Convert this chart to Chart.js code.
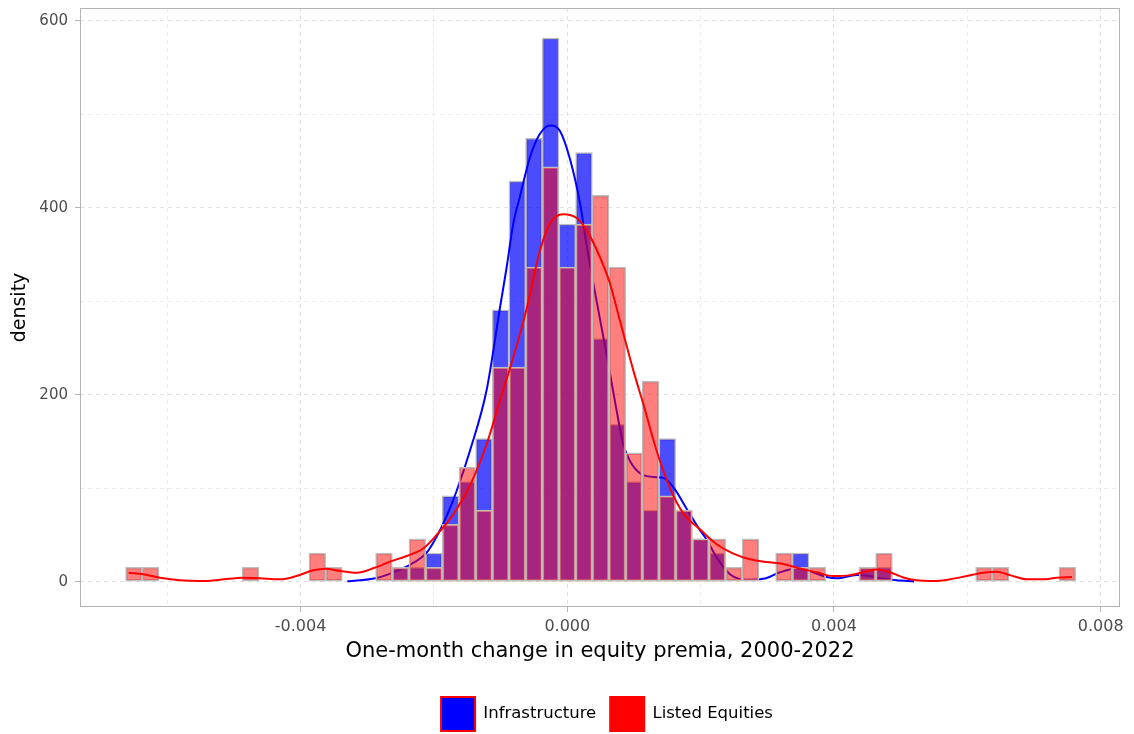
<!DOCTYPE html>
<html>
<head>
<meta charset="utf-8">
<script src="https://cdn.jsdelivr.net/npm/chart.js@4/dist/chart.umd.min.js"></script>
<style>
  html, body { margin: 0; padding: 0; background: #fff; }
</style>
</head>
<body>
<canvas id="premiaChart" width="1134" height="734"></canvas>
<script>
// histogram bins (centres), bin width 0.00025
const binCenters = [-0.0065,-0.00625,-0.006,-0.00575,-0.0055,-0.00525,-0.005,-0.00475,-0.0045,-0.00425,
  -0.004,-0.00375,-0.0035,-0.00325,-0.003,-0.00275,-0.0025,-0.00225,-0.002,-0.00175,
  -0.0015,-0.00125,-0.001,-0.00075,-0.0005,-0.00025,0,0.00025,0.0005,0.00075,
  0.001,0.00125,0.0015,0.00175,0.002,0.00225,0.0025,0.00275,0.003,0.00325,
  0.0035,0.00375,0.004,0.00425,0.0045,0.00475,0.005,0.00525,0.0055,0.00575,
  0.006,0.00625,0.0065,0.00675,0.007,0.00725,0.0075];

const infraDensity = [0,0,0,0,0,0,0,0,0,0,
  0,0,0,0,0,0,15.3,15.3,30.6,91.8,
  107.1,153,290.7,428.4,474.3,581.4,382.5,459,260.1,168.3,
  107.1,76.5,153,76.5,45.9,30.6,0,0,0,0,
  30.6,0,0,0,15.3,15.3,0,0,0,0,
  0,0,0,0,0,0,0];

const listedDensity = [15.3,15.3,0,0,0,0,0,15.3,0,0,
  0,30.6,15.3,0,0,30.6,15.3,45.9,15.3,61.2,
  122.4,76.5,229.5,229.5,336.6,443.7,336.6,382.5,413.1,336.6,
  137.7,214.2,91.8,76.5,45.9,45.9,15.3,45.9,0,30.6,
  15.3,15.3,0,0,15.3,30.6,0,0,0,0,
  0,15.3,15.3,0,0,0,15.3];

// kernel density curves
const infraCurveX = [-0.0033,-0.0031,-0.00286,-0.00261,-0.00236,-0.00211,-0.00196,-0.00181,-0.00166,-0.00146,
  -0.00121,-0.00101,-0.00091,-0.00081,-0.00071,-0.00056,-0.00041,-0.00026,-0.00011,0.00004,
  0.00019,0.00029,0.00044,0.00059,0.00074,0.00084,0.00094,0.00109,0.00129,0.00144,
  0.00159,0.00179,0.00199,0.00209,0.00224,0.00244,0.00269,0.00294,0.00319,0.00344,
  0.00364,0.00389,0.00404,0.00434,0.00454,0.00474,0.00494,0.0052];
const infraCurveY = [0.5,1.5,4,10,18,31,48,70,97,140,
  205,293,336,383,412,454,479,488,482,452,
  405,360,300,243,183,147,129,116,112,111,
  101,78,55,45,26,8,2,3,10,14,
  11,5,3.6,7,6,3,1.5,0.3];

const listedCurveX = [-0.00658,-0.00636,-0.00611,-0.00581,-0.00551,-0.00521,-0.00486,-0.00461,-0.00431,-0.00406,
  -0.00381,-0.00363,-0.00341,-0.00316,-0.00291,-0.00266,-0.00241,-0.00216,-0.00196,-0.00171,
  -0.00146,-0.00121,-0.00101,-0.00081,-0.00061,-0.00041,-0.00026,-0.00006,0.00014,0.00029,
  0.00049,0.00064,0.00079,0.00099,0.00114,0.00134,0.00154,0.00174,0.00199,0.00224,
  0.00249,0.00274,0.00299,0.00324,0.00349,0.00374,0.00399,0.00424,0.00449,0.00464,
  0.00484,0.00504,0.00524,0.00549,0.00574,0.00599,0.00624,0.00644,0.00664,0.00689,
  0.00714,0.00734,0.00757];
const listedCurveY = [9.6,7.9,4.3,1.5,0.7,2,4.3,3.6,2.5,6.1,
  12.2,13.9,11.5,9.6,14.3,21.4,27.5,35.5,50,72,
  103,147,194,240,292,354,383,393,389,376,
  347,319,279,226,190,140,100,73,56,40,
  30,24,21,19,14,10,6,7,11,13,
  10,4.5,1.5,0.7,2.5,6,9.6,10.7,7,2.5,
  2.5,4.3,5];

const seriesNames = ['Infrastructure', 'Listed Equities'];

// axes
const xGridValues = [-0.006,-0.004,-0.002,0,0.002,0.004,0.006,0.008];
const xMajorTicks = [-0.004,0,0.004,0.008];
const xTickLabels = ['-0.004','0.000','0.004','0.008'];
const yGridValues = [0,100,200,300,400,500,600];
const yMajorTicks = [0,200,400,600];
const yTickLabels = ['0','200','400','600'];

const majorGrid = '#e1e1e1', minorGrid = '#ececec', tickMark = '#b3b3b3';
const isMajor = (list, v) => list.findIndex(m => Math.abs(m - v) < 1e-9);

const panelBorder = {
  id: 'panelBorder',
  afterLayout(chart) {
    // ggplot centres the legend a little right of the panel centre
    if (chart.legend) { chart.legend.left += 7; chart.legend.right += 7; }
  },
  afterDatasetsDraw(chart) {
    const {ctx, chartArea: a} = chart;
    ctx.save();
    ctx.strokeStyle = '#b3b3b3';
    ctx.lineWidth = 1;
    ctx.strokeRect(Math.round(a.left) + 0.5, Math.round(a.top) + 0.5,
      Math.round(a.right - a.left) - 1, Math.round(a.bottom - a.top) - 1);
    ctx.restore();
  }
};

const barStyle = {type: 'bar', grouped: false, barPercentage: 1, categoryPercentage: 1,
  borderColor: '#bdbdbd', borderWidth: 1.5, borderSkipped: false};
const lineStyle = {type: 'line', pointRadius: 0, borderWidth: 2, fill: false,
  cubicInterpolationMode: 'monotone'};

new Chart(document.getElementById('premiaChart'), {
  type: 'bar',
  data: {
    datasets: [
      Object.assign({label: seriesNames[0], order: 4, backgroundColor: 'rgba(0,0,255,0.7)',
        data: binCenters.map((x, i) => ({x, y: infraDensity[i]}))}, barStyle),
      Object.assign({label: seriesNames[0] + ' density', order: 3, borderColor: '#0000ff',
        data: infraCurveX.map((x, i) => ({x, y: infraCurveY[i]}))}, lineStyle),
      Object.assign({label: seriesNames[1], order: 2, backgroundColor: 'rgba(255,0,0,0.5)',
        data: binCenters.map((x, i) => ({x, y: listedDensity[i]}))}, barStyle),
      Object.assign({label: seriesNames[1] + ' density', order: 1, borderColor: '#ff0000',
        data: listedCurveX.map((x, i) => ({x, y: listedCurveY[i]}))}, lineStyle)
    ]
  },
  options: {
    responsive: false,
    animation: false,
    events: [],
    layout: {padding: {left: 0, right: 14, top: 8, bottom: -7}},
    plugins: {
      tooltip: {enabled: false},
      legend: {
        position: 'bottom',
        fullSize: false,
        labels: {
          boxWidth: 34, boxHeight: 34, padding: 14, color: '#1a1a1a',
          font: {family: 'DejaVu Sans', size: 16.5},
          generateLabels: () => [
            {text: seriesNames[0], fillStyle: '#0000ff', strokeStyle: '#ff0000', lineWidth: 2, hidden: false, datasetIndex: 0},
            {text: seriesNames[1], fillStyle: '#ff0000', strokeStyle: '#ff0000', lineWidth: 2, hidden: false, datasetIndex: 2}
          ]
        }
      }
    },
    scales: {
      x: {
        type: 'linear', min: -0.007309, max: 0.00829, offset: false,
        afterBuildTicks: s => { s.ticks = xGridValues.map(v => ({value: v})); },
        afterFit: s => { s.height = 76; s.paddingLeft = 0; s.paddingRight = 0; },
        grid: {
          offset: false, lineWidth: 1, tickLength: 5,
          color: c => (c.tick && isMajor(xMajorTicks, c.tick.value) >= 0) ? majorGrid : minorGrid,
          tickColor: c => (c.tick && isMajor(xMajorTicks, c.tick.value) >= 0) ? tickMark : 'rgba(0,0,0,0)'
        },
        border: {display: false, dash: [4, 4]},
        ticks: {
          autoSkip: false, maxRotation: 0, padding: 5, color: '#4d4d4d',
          font: {family: 'DejaVu Sans', size: 16},
          callback: v => { const i = isMajor(xMajorTicks, v); return i >= 0 ? xTickLabels[i] : ''; }
        },
        title: {
          display: true, text: 'One-month change in equity premia, 2000-2022', color: '#000',
          font: {family: 'DejaVu Sans', size: 21}, padding: {top: 0, bottom: 19}
        }
      },
      y: {
        type: 'linear', min: -27.1, max: 613.6,
        afterBuildTicks: s => { s.ticks = yGridValues.map(v => ({value: v})); },
        afterFit: s => { s.width = 80; s.paddingTop = 0; s.paddingBottom = 0; },
        grid: {
          lineWidth: 1, tickLength: 5,
          color: c => (c.tick && isMajor(yMajorTicks, c.tick.value) >= 0) ? majorGrid : minorGrid,
          tickColor: c => (c.tick && isMajor(yMajorTicks, c.tick.value) >= 0) ? tickMark : 'rgba(0,0,0,0)'
        },
        border: {display: false, dash: [4, 4]},
        ticks: {
          autoSkip: false, padding: 7, color: '#4d4d4d',
          font: {family: 'DejaVu Sans', size: 15},
          callback: v => { const i = isMajor(yMajorTicks, v); return i >= 0 ? yTickLabels[i] : ''; }
        },
        title: {
          display: true, text: 'density', color: '#000',
          font: {family: 'DejaVu Sans', size: 19}, padding: {top: 9, bottom: 0}
        }
      }
    }
  },
  plugins: [panelBorder]
});
</script>
</body>
</html>
